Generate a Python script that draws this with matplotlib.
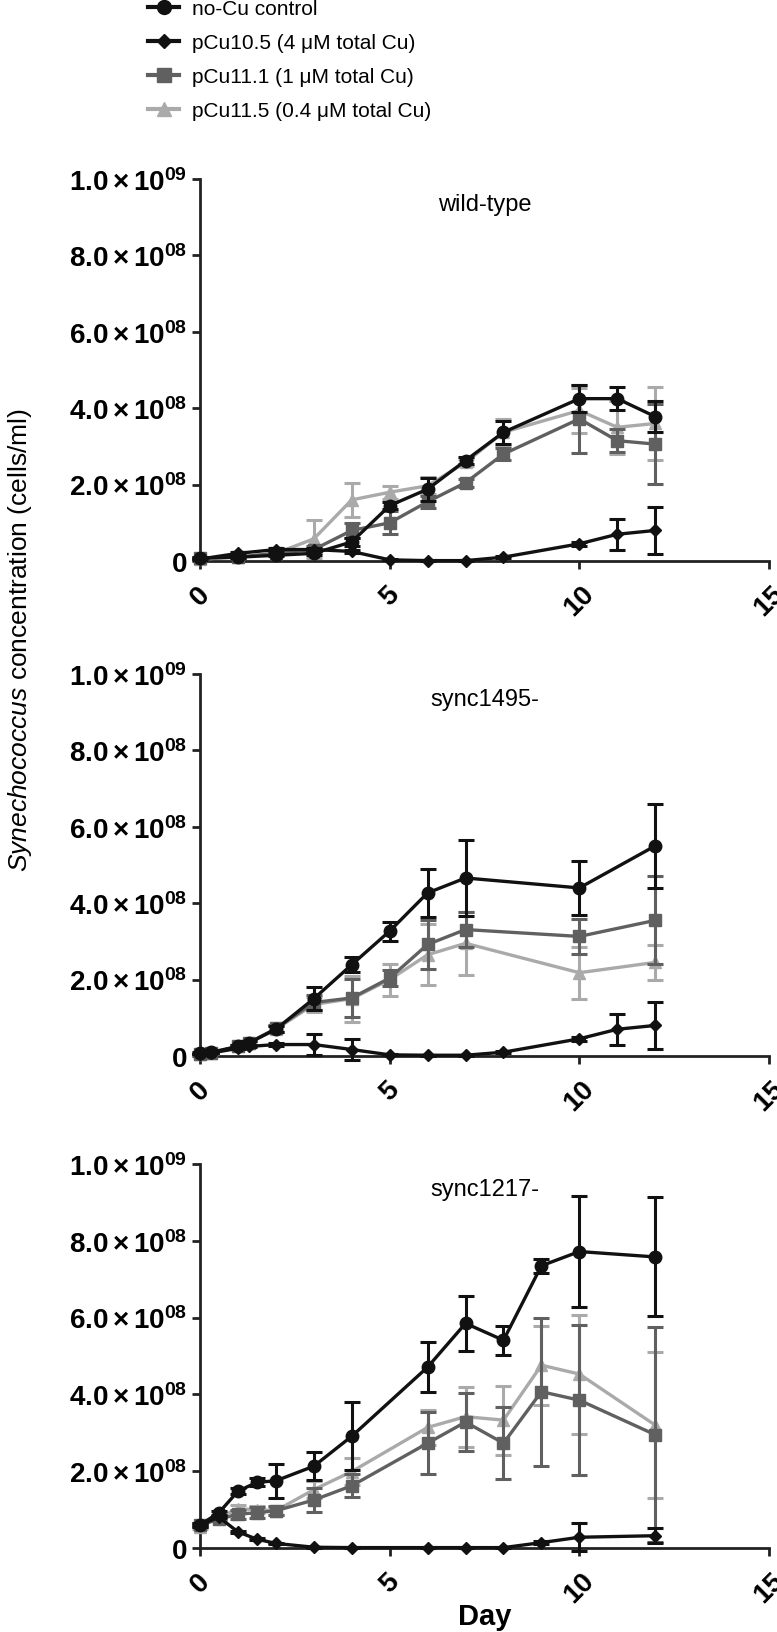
import matplotlib
matplotlib.use('Agg')
import matplotlib.pyplot as plt
from matplotlib.lines import Line2D
from matplotlib import font_manager
import numpy as np

# values in units of 1e8 cells/ml
legend_labels = ['no-Cu control', 'pCu10.5 (4 \u03bcM total Cu)',
                 'pCu11.1 (1 \u03bcM total Cu)', 'pCu11.5 (0.4 \u03bcM total Cu)']
panel_titles = ['wild-type', 'sync1495-', 'sync1217-']

# wild-type
wt_days = [0, 1, 2, 3, 4, 5, 6, 7, 8, 10, 11, 12]
wt_ctrl = [0.08, 0.1, 0.15, 0.2, 0.5, 1.45, 1.88, 2.63, 3.37, 4.25, 4.25, 3.78]
wt_ctrl_err = [0.02, 0.02, 0.03, 0.05, 0.1, 0.1, 0.3, 0.1, 0.3, 0.35, 0.3, 0.4]
wt_cu105 = [0.05, 0.2, 0.3, 0.3, 0.25, 0.03, 0.01, 0.01, 0.1, 0.45, 0.7, 0.8]
wt_cu105_err = [0.02, 0.03, 0.05, 0.05, 0.05, 0.01, 0.01, 0.01, 0.03, 0.05, 0.4, 0.62]
wt_cu111 = [0.08, 0.1, 0.2, 0.3, 0.8, 1.0, 1.55, 2.05, 2.8, 3.72, 3.15, 3.06]
wt_cu111_err = [0.02, 0.02, 0.03, 0.1, 0.2, 0.3, 0.15, 0.1, 0.15, 0.9, 0.3, 1.05]
wt_cu115 = [0.05, 0.1, 0.2, 0.58, 1.6, 1.8, 1.97, 2.58, 3.37, 3.94, 3.5, 3.6]
wt_cu115_err = [0.02, 0.02, 0.05, 0.5, 0.45, 0.17, 0.22, 0.1, 0.35, 0.6, 0.7, 0.95]

# sync1495-
s95_days = [0, 0.3, 1, 1.3, 2, 3, 4, 5, 6, 7, 10, 12]
s95_ctrl = [0.08, 0.1, 0.25, 0.35, 0.7, 1.5, 2.39, 3.27, 4.27, 4.66, 4.4, 5.5]
s95_ctrl_err = [0.02, 0.02, 0.03, 0.05, 0.08, 0.3, 0.2, 0.25, 0.63, 1.0, 0.7, 1.1]
s95_cu105_days = [0, 0.3, 1, 1.3, 2, 3, 4, 5, 6, 7, 8, 10, 11, 12]
s95_cu105 = [0.05, 0.08, 0.2, 0.25, 0.3, 0.3, 0.17, 0.03, 0.02, 0.02, 0.1, 0.45, 0.7, 0.8]
s95_cu105_err = [0.01, 0.01, 0.02, 0.02, 0.03, 0.28, 0.28, 0.01, 0.01, 0.01, 0.02, 0.05, 0.4, 0.62]
s95_cu111 = [0.05, 0.08, 0.25, 0.35, 0.72, 1.4, 1.52, 2.04, 2.92, 3.31, 3.13, 3.55]
s95_cu111_err = [0.02, 0.02, 0.05, 0.05, 0.08, 0.2, 0.5, 0.2, 0.65, 0.45, 0.45, 1.15]
s95_cu115 = [0.05, 0.08, 0.25, 0.35, 0.7, 1.35, 1.5, 2.0, 2.65, 2.95, 2.18, 2.45]
s95_cu115_err = [0.02, 0.02, 0.05, 0.05, 0.08, 0.2, 0.6, 0.42, 0.8, 0.82, 0.68, 0.45]

# sync1217-
s17_days = [0, 0.5, 1, 1.5, 2, 3, 4, 6, 7, 8, 9, 10, 12]
s17_ctrl = [0.6, 0.92, 1.48, 1.71, 1.75, 2.13, 2.91, 4.71, 5.85, 5.41, 7.35, 7.72, 7.58]
s17_ctrl_err = [0.05, 0.05, 0.08, 0.1, 0.45, 0.37, 0.88, 0.65, 0.72, 0.38, 0.18, 1.45, 1.55]
s17_cu105 = [0.6, 0.8, 0.42, 0.23, 0.12, 0.02, 0.01, 0.01, 0.01, 0.01, 0.14, 0.28, 0.32]
s17_cu105_err = [0.03, 0.03, 0.03, 0.02, 0.02, 0.01, 0.01, 0.01, 0.01, 0.01, 0.03, 0.37, 0.2]
s17_cu111 = [0.6, 0.75, 0.88, 0.92, 0.97, 1.25, 1.62, 2.73, 3.28, 2.73, 4.07, 3.85, 2.95]
s17_cu111_err = [0.05, 0.05, 0.12, 0.15, 0.12, 0.3, 0.3, 0.8, 0.75, 0.93, 1.93, 1.95, 2.8]
s17_cu115 = [0.55, 0.8, 1.02, 1.0, 0.97, 1.52, 1.99, 3.14, 3.42, 3.33, 4.76, 4.53, 3.2]
s17_cu115_err = [0.05, 0.05, 0.1, 0.1, 0.1, 0.23, 0.35, 0.45, 0.78, 0.9, 1.03, 1.55, 1.9]

y_ticks = [0, 2e8, 4e8, 6e8, 8e8, 1e9]
y_ticklabels = ['0', r'$\mathbf{2.0\times10^{08}}$', r'$\mathbf{4.0\times10^{08}}$',
                r'$\mathbf{6.0\times10^{08}}$', r'$\mathbf{8.0\times10^{08}}$',
                r'$\mathbf{1.0\times10^{09}}$']
x_ticks = [0, 5, 10, 15]

plt.rcParams['font.family'] = ['Liberation Sans', 'DejaVu Sans']
plt.rcParams['mathtext.fontset'] = 'custom'
plt.rcParams['mathtext.rm'] = 'Liberation Sans'
plt.rcParams['mathtext.it'] = 'Liberation Sans:italic'
plt.rcParams['mathtext.bf'] = 'Liberation Sans:bold'

# legend text in the original is a condensed face
installed = {f.name for f in font_manager.fontManager.ttflist}
if 'Liberation Sans Narrow' in installed:
    legend_font = ['Liberation Sans Narrow', 'DejaVu Sans']
    legend_size = 17
else:
    legend_font = ['Liberation Sans', 'DejaVu Sans']
    legend_size = 15

colors = ['#111111', '#111111', '#606060', '#aaaaaa']
markers = ['o', 'D', 's', '^']
msizes = [9, 6, 8.5, 9]

fig = plt.figure(figsize=(7.77, 16.33), dpi=100)
W, H = 777.0, 1633.0
left, right = 200 / W, 769 / W
panel_px = [(180, 562), (675, 1057), (1165, 1549)]


def draw_series(ax, x, y, err, i):
    y = np.array(y) * 1e8
    err = np.array(err) * 1e8
    ax.errorbar(x, y, yerr=err, color=colors[i], marker=markers[i], markersize=msizes[i],
                linewidth=2.4, elinewidth=2.2, capsize=5.5, capthick=2.2,
                clip_on=False, zorder=10 - i)


panels = [
    [(wt_days, wt_ctrl, wt_ctrl_err), (wt_days, wt_cu105, wt_cu105_err),
     (wt_days, wt_cu111, wt_cu111_err), (wt_days, wt_cu115, wt_cu115_err)],
    [(s95_days, s95_ctrl, s95_ctrl_err), (s95_cu105_days, s95_cu105, s95_cu105_err),
     (s95_days, s95_cu111, s95_cu111_err), (s95_days, s95_cu115, s95_cu115_err)],
    [(s17_days, s17_ctrl, s17_ctrl_err), (s17_days, s17_cu105, s17_cu105_err),
     (s17_days, s17_cu111, s17_cu111_err), (s17_days, s17_cu115, s17_cu115_err)],
]

for p, (top, bot) in enumerate(panel_px):
    ax = fig.add_axes([left, 1 - bot / H, right - left, (bot - top) / H])
    # draw light series first so the black ones sit on top
    for i in (3, 2, 1, 0):
        x, y, e = panels[p][i]
        draw_series(ax, x, y, e, i)
    ax.set_xlim(0, 15)
    ax.set_ylim(0, 1e9)
    ax.set_yticks(y_ticks)
    ax.set_yticklabels(y_ticklabels, fontsize=20, fontweight='bold')
    ax.set_xticks(x_ticks)
    ax.set_xticklabels([str(t) for t in x_ticks], fontsize=20, fontweight='bold', rotation=45)
    for s in ('top', 'right'):
        ax.spines[s].set_visible(False)
    for s in ('left', 'bottom'):
        ax.spines[s].set_linewidth(2.0)
        ax.spines[s].set_color('#222222')
    ax.tick_params(axis='both', length=6, width=2.0, color='#222222')
    ax.tick_params(axis='x', pad=8)
    ax.tick_params(axis='y', pad=3)
    ax.text(0.5, 0.935, panel_titles[p], transform=ax.transAxes, ha='center', va='center',
            fontsize=17)
    if p == 2:
        ax.set_xlabel('Day', fontsize=21, fontweight='bold', labelpad=-4)

fig.text(20 / W, 1 - 640 / H, r'$\it{Synechococcus}$ concentration (cells/ml)',
         rotation=90, ha='center', va='center', fontsize=19)

handles = [Line2D([], [], color=colors[i], marker=markers[i], markersize=msizes[i] + 1,
                  linewidth=3) for i in range(4)]
fig.legend(handles, legend_labels, loc='upper left', bbox_to_anchor=(148 / W, 1 - 0 / H),
           frameon=False, prop={'family': legend_font, 'size': legend_size},
           handlelength=1.5, handletextpad=0.6,
           labelspacing=0.72, borderpad=0, borderaxespad=0)

fig.savefig('out.png', dpi=100)
